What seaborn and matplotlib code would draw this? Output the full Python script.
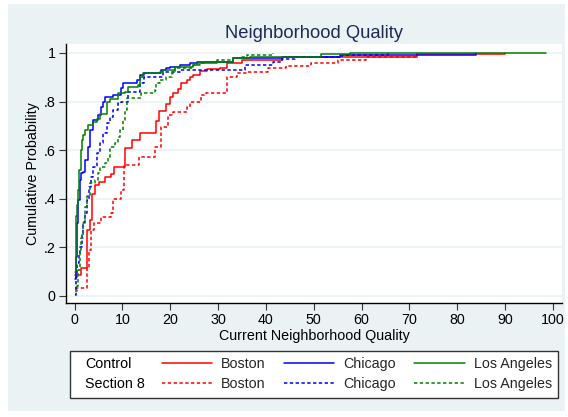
import matplotlib
matplotlib.use("Agg")
import matplotlib.pyplot as plt
from matplotlib.lines import Line2D
from matplotlib.patches import Rectangle
from matplotlib.text import Text
from matplotlib.legend_handler import HandlerBase
import seaborn as sns
import numpy as np
import pandas as pd

# step points: current neighborhood quality vs cumulative share
boston_ctrl_x = [0, 1.4, 2.6, 3.3, 3.7, 4.2, 5.0, 6.3, 7.7, 8.3, 10.6, 11.9, 13.6, 17.1, 17.6,
                 19.2, 19.9, 20.6, 21.6, 22.2, 23.4, 24.1, 24.8, 26.2, 27.6, 30.4, 31.8, 35.0,
                 43.3, 71.5, 90.0]
boston_ctrl_p = [.086, .115, .27, .313, .42, .457, .47, .49, .50, .53, .61, .64, .67, .72, .76,
                 .79, .82, .834, .85, .875, .889, .90, .91, .925, .935, .94, .958, .971,
                 .985, .995, 1.0]

chicago_ctrl_x = [0, 0.2, 0.4, 0.6, 0.8, 1.1, 1.4, 1.8, 2.2, 2.9, 3.2, 3.9, 4.9, 5.6, 5.9, 6.3,
                  8.1, 9.8, 10.2, 13.0, 13.6, 14.5, 18.1, 19.2, 20.0, 22.0, 24.2, 25.5, 33.2,
                  43.3, 46.1, 55.4, 84.0]
chicago_ctrl_p = [.07, .16, .20, .30, .395, .477, .505, .51, .56, .614, .683, .724, .745, .779,
                  .80, .82, .827, .855, .875, .889, .909, .916, .93, .94, .944, .95, .958, .964,
                  .978, .982, .985, .99, 1.0]

la_ctrl_x = [0, 0.2, 0.5, 0.75, 1.0, 1.25, 1.5, 1.8, 2.2, 2.9, 3.9, 4.6, 5.3, 6.7, 7.3, 9.1,
             10.5, 11.2, 13.3, 13.7, 14.2, 17.8, 18.5, 20.9, 24.8, 25.5, 29.7, 33.2, 36.7,
             51.6, 57.6, 98.5]
la_ctrl_p = [.10, .33, .374, .436, .52, .60, .642, .663, .683, .704, .717, .73, .75, .80, .81,
             .834, .841, .861, .868, .902, .916, .923, .93, .944, .95, .958, .964, .978, .985,
             .995, .998, 1.0]

boston_s8_x = [0, 2.6, 3.1, 3.4, 4.0, 5.5, 7.7, 8.1, 9.8, 10.4, 13.5, 16.8, 18.1, 19.5, 20.6,
               23.4, 24.1, 26.5, 27.5, 31.8, 33.9, 36.0, 40.5, 44.3, 49.5, 55.1, 61.0, 71.5]
boston_s8_p = [.032, .114, .19, .27, .30, .326, .34, .40, .436, .54, .573, .614, .697, .745,
               .758, .779, .80, .827, .834, .90, .916, .923, .937, .946, .958, .971, .985, 1.0]

chicago_s8_x = [0, 0.3, 0.6, 0.9, 1.2, 1.5, 1.8, 2.15, 2.5, 3.0, 3.4, 3.9, 4.6, 5.3, 6.0, 6.7,
                7.3, 8.1, 9.1, 9.8, 11.2, 13.6, 14.5, 18.5, 22.0, 35.6, 41.5, 43.3, 46.1, 55.8,
                65.5]
chicago_s8_p = [.004, .08, .135, .177, .20, .25, .306, .34, .395, .45, .49, .53, .587, .628,
                .67, .71, .738, .765, .793, .80, .841, .875, .90, .923, .93, .95, .964, .975,
                .985, .99, 1.0]

la_s8_x = [0, 0.4, 0.8, 1.1, 1.4, 1.65, 2.15, 2.6, 3.2, 4.2, 4.9, 5.4, 6.3, 7.0, 7.4, 8.4, 9.1,
           9.4, 10.2, 10.5, 10.9, 13.9, 16.8, 17.1, 17.8, 19.2, 20.3, 20.9, 24.8, 26.2, 27.5,
           29.7, 33.2, 34.8, 36.0, 41.4]
la_s8_p = [.02, .04, .107, .19, .237, .30, .367, .41, .463, .477, .505, .53, .546, .573, .614,
           .628, .656, .683, .724, .765, .814, .834, .848, .875, .889, .90, .916, .937, .95,
           .958, .964, .971, .978, .985, .99, 1.0]

cities = ["Boston", "Chicago", "Los Angeles"]
groups = ["Control", "Section 8"]
city_colors = {"Boston": "#ff0000", "Chicago": "#0000ff", "Los Angeles": "#008000"}
dash = (2.2, 1.6)

series = [
    ("Boston", "Control", boston_ctrl_x, boston_ctrl_p),
    ("Chicago", "Control", chicago_ctrl_x, chicago_ctrl_p),
    ("Los Angeles", "Control", la_ctrl_x, la_ctrl_p),
    ("Boston", "Section 8", boston_s8_x, boston_s8_p),
    ("Chicago", "Section 8", chicago_s8_x, chicago_s8_p),
    ("Los Angeles", "Section 8", la_s8_x, la_s8_p),
]
df = pd.concat([pd.DataFrame({"quality": x, "prob": p, "city": c, "group": g})
                for c, g, x, p in series], ignore_index=True)

sns.set_theme(style="white")
plt.rcParams["font.family"] = ["Liberation Sans", "DejaVu Sans"]
FS = 10.3

fig = plt.figure(figsize=(5.68, 4.17), dpi=100, facecolor="white")
# Stata-like light graph region
fig.patches.append(Rectangle((8 / 568, 6 / 417), (565 - 8) / 568, (413 - 6) / 417,
                             transform=fig.transFigure, facecolor="#eaf2f3",
                             edgecolor="none", zorder=-10))
ax = fig.add_axes([66 / 568, 1 - 303 / 417, (562 - 66) / 568, (303 - 44) / 417])
ax.set_facecolor("white")

sns.lineplot(data=df, x="quality", y="prob", hue="city", style="group",
             hue_order=cities, style_order=groups, palette=city_colors,
             dashes={"Control": "", "Section 8": dash}, drawstyle="steps-post",
             estimator=None, lw=1.1, legend=False, ax=ax)

ax.set_xlim(-1.8, 101.9)
ax.set_ylim(-0.029, 1.037)
ax.set_xticks(np.arange(0, 101, 10))
ax.set_yticks([0, .2, .4, .6, .8, 1])
ax.set_yticklabels(["0", ".2", ".4", ".6", ".8", "1"])
ax.yaxis.grid(True, color="#eaf2f3", lw=1.2)
ax.set_axisbelow(True)
for side in ["top", "right"]:
    ax.spines[side].set_visible(False)
for side in ["left", "bottom"]:
    ax.spines[side].set_color("black")
    ax.spines[side].set_linewidth(1.0)
ax.tick_params(axis="both", which="major", direction="out", length=5, width=0.8,
               color="#333333", labelsize=FS, labelcolor="black", pad=2.5,
               left=True, bottom=True)
ax.set_xlabel("Current Neighborhood Quality", fontsize=FS, color="black", labelpad=1)
ax.set_ylabel("Cumulative Probability", fontsize=FS, color="black", labelpad=2.5)
ax.set_title("Neighborhood Quality", fontsize=13.2, color="#1e2a55", pad=4)


class RowLabel:
    def __init__(self, text):
        self.text = text


class RowLabelHandler(HandlerBase):
    def create_artists(self, legend, orig_handle, xdescent, ydescent, width, height,
                       fontsize, trans):
        t = Text(x=0.62 * fontsize - xdescent, y=0, text=orig_handle.text,
                 fontsize=fontsize, va="baseline", ha="left", color="black",
                 transform=trans)
        return [t]


handles = [RowLabel("Control"), RowLabel("Section 8")]
labels = ["  ", "  "]
for c in cities:
    handles.append(Line2D([], [], color=city_colors[c], lw=1.1))
    handles.append(Line2D([], [], color=city_colors[c], lw=1.1, dashes=dash))
    labels += [c, c]

leg = fig.legend(handles, labels, ncol=4, loc="upper left",
                 bbox_to_anchor=(69.5 / 568, 1 - 351 / 417), bbox_transform=fig.transFigure,
                 handler_map={RowLabel: RowLabelHandler()}, fontsize=FS,
                 handlelength=3.53, handletextpad=0.62, columnspacing=1.28,
                 borderpad=0.45, labelspacing=0.4, borderaxespad=0,
                 frameon=True, fancybox=False, framealpha=1, edgecolor="#333333",
                 facecolor="white")
leg.get_frame().set_linewidth(1.0)

fig.savefig("out.png", dpi=100, facecolor="white")
